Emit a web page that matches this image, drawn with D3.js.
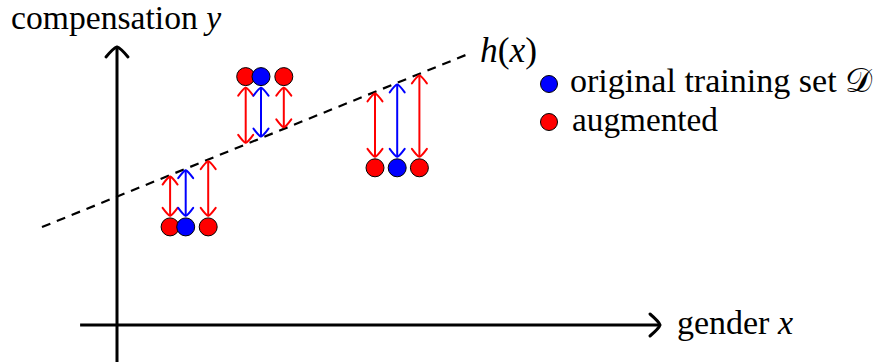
<!DOCTYPE html>
<html><head><meta charset="utf-8">
<script src="https://cdn.jsdelivr.net/npm/d3@7"></script>
<style>body{margin:0;background:#fff} svg{display:block}</style>
</head><body><svg id="c" width="876" height="362"></svg>
<script>
// ---- data (chart units) ----
const originalX = [2.29, 4.80, 9.34];
const originalY = [3.27, 8.28, 5.24];
const augmentedX = [1.77, 3.04, 4.29, 5.56, 8.60, 10.08];
const augmentedY = [3.27, 3.27, 8.28, 8.28, 5.24, 5.24];
const hIntercept = 4.28;
const hSlope = 0.406;
const hDomain = [-2.5, 11.8];
const xAxisExtent = [-1.23, 18.1];
const yAxisExtent = [-1.23, 9.27];
const axisTitles = ["gender ", "x", "compensation ", "y"];
const legendLabels = ["original training set ", "\u{1D49F}", "augmented"];
const colors = {original: "#0000ff", augmented: "#ff0000"};

const svg = d3.select("#c");
const x = d3.scaleLinear().domain([0, 18]).range([117, 657]);
const y = d3.scaleLinear().domain([0, 10]).range([325, 25]);
const h = u => hIntercept + hSlope * u;

function head(g, px, py, up, color, w, l, sw) {
  g.append("path")
    .attr("d", `M${-w},${l} Q${-w*0.3},${l*0.1} 0,0 Q${w*0.3},${l*0.1} ${w},${l}`)
    .attr("transform", `translate(${px},${py}) scale(1,${up ? 1 : -1})`)
    .attr("fill", "none").attr("stroke", color).attr("stroke-width", sw)
    .attr("stroke-linecap", "round").attr("stroke-linejoin", "round");
}

// axes
const ax = svg.append("g");
ax.append("line").attr("x1", x(xAxisExtent[0])).attr("x2", x(xAxisExtent[1]))
  .attr("y1", y(0)).attr("y2", y(0)).attr("stroke", "#000").attr("stroke-width", 3);
ax.append("line").attr("x1", x(0)).attr("x2", x(0))
  .attr("y1", y(yAxisExtent[0])).attr("y2", y(yAxisExtent[1])).attr("stroke", "#000").attr("stroke-width", 3);
head(ax, x(0), y(yAxisExtent[1]), true, "#000", 11, 10, 3);
ax.append("path")
  .attr("d", `M-10,-11 Q-1,-3.3 0,0 Q-1,3.3 -10,11`)
  .attr("transform", `translate(${x(xAxisExtent[1])},${y(0)})`)
  .attr("fill", "none").attr("stroke", "#000").attr("stroke-width", 3).attr("stroke-linecap", "round");

// h(x) dashed line
svg.append("line")
  .attr("x1", x(hDomain[0])).attr("y1", y(h(hDomain[0])))
  .attr("x2", x(hDomain[1])).attr("y2", y(h(hDomain[1])))
  .attr("stroke", "#000").attr("stroke-width", 2.2).attr("stroke-dasharray", "9,7");

const R = 9;
const pts = augmentedX.map((v, i) => ({x: v, y: augmentedY[i], c: colors.augmented}))
  .concat(originalX.map((v, i) => ({x: v, y: originalY[i], c: colors.original})));

// residual arrows
const ag = svg.append("g");
pts.forEach(p => {
  const cx = x(p.x), cy = y(p.y), ly = y(h(p.x));
  const below = cy > ly;
  const a = below ? cy - R - 2 : cy + R + 2;
  const b = below ? ly + 1.5 : ly - 1.5;
  ag.append("line").attr("x1", cx).attr("x2", cx).attr("y1", a).attr("y2", b)
    .attr("stroke", p.c).attr("stroke-width", 2);
  head(ag, cx, Math.min(a, b), true, p.c, 7.5, 8, 2);
  head(ag, cx, Math.max(a, b), false, p.c, 7.5, 8, 2);
});

// points
svg.append("g").selectAll("circle").data(pts).join("circle")
  .attr("cx", d => x(d.x)).attr("cy", d => y(d.y)).attr("r", R)
  .attr("fill", d => d.c).attr("stroke", "#000").attr("stroke-width", 1);

function fit(t, target) {
  const w = t.node().getBBox().width;
  const fs = +t.attr("font-size");
  t.attr("font-size", Math.max(26, Math.min(36, fs * target / w)));
}
function label(px, py, parts, target) {
  const t = svg.append("text").attr("x", px).attr("y", py)
    .style("font-family", '"Liberation Serif"')
    .attr("font-size", 32).attr("fill", "#000");
  parts.forEach(([s, it, fam]) => {
    const ts = t.append("tspan").text(s);
    if (it) ts.style("font-style", "italic");
    if (fam) ts.style("font-family", fam);
  });
  fit(t, target);
  return t;
}
label(11, 29, [[axisTitles[2], false], [axisTitles[3], true]], 211);
label(677, 334, [[axisTitles[0], false], [axisTitles[1], true]], 116);
label(480, 62, [["h", true], ["(", false], ["x", true], [")", false]], 57);

// legend
svg.append("circle").attr("cx", 549).attr("cy", 84).attr("r", 8.5)
  .attr("fill", colors.original).attr("stroke", "#000").attr("stroke-width", 1);
svg.append("circle").attr("cx", 549).attr("cy", 122).attr("r", 8.5)
  .attr("fill", colors.augmented).attr("stroke", "#000").attr("stroke-width", 1);
label(570, 92, [[legendLabels[0], false], [legendLabels[1], false, '"DejaVu Sans"']], 303);
label(572, 131, [[legendLabels[2], false]], 146);
</script></body></html>
